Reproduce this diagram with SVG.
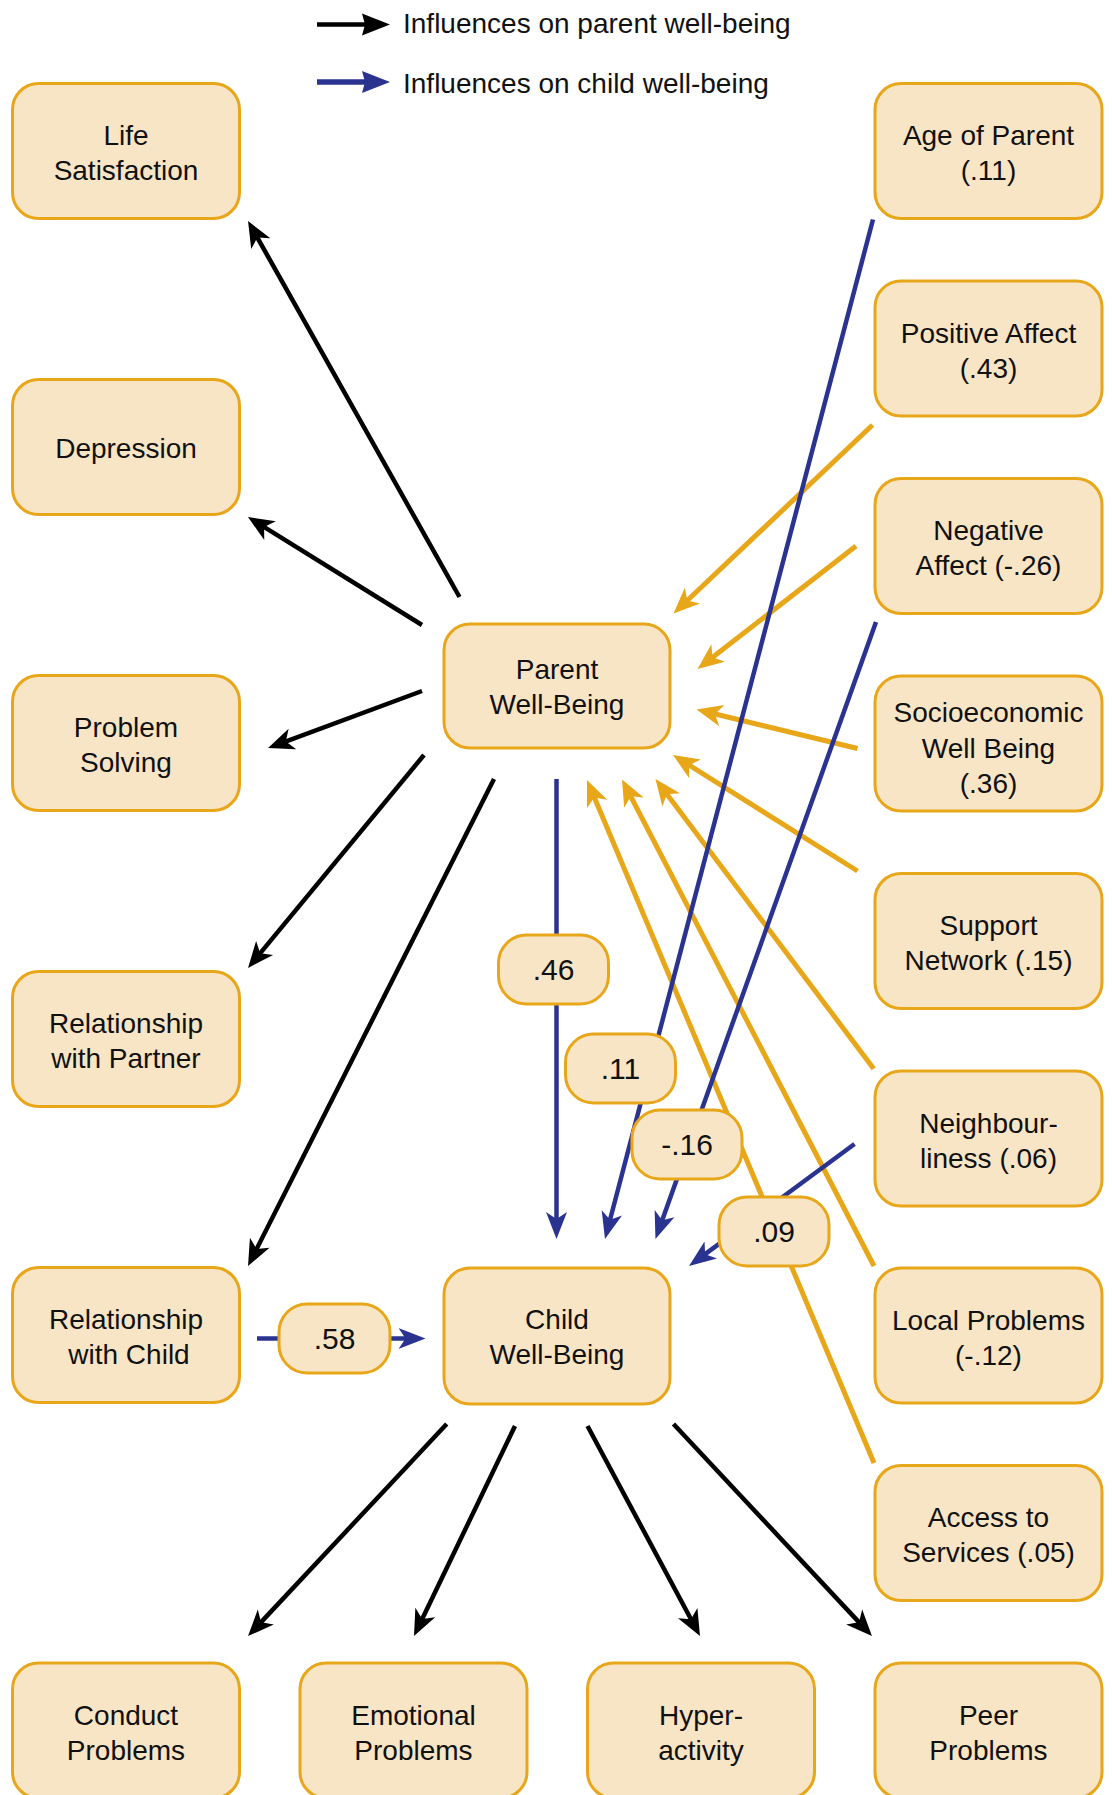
<svg xmlns="http://www.w3.org/2000/svg" width="1112" height="1795" viewBox="0 0 1112 1795">
<style>
.node rect{fill:#F8E5C6;stroke:#E8A619;stroke-width:3}
.node text,.lbl text,.leg text{font-family:"Liberation Sans",Arial,sans-serif;font-size:28px;text-anchor:middle;fill:#111}
.lbl rect{fill:#F8E5C6;stroke:#E8A619;stroke-width:3}
.lbl text{font-size:30px}
.leg text{text-anchor:start}
.k{stroke:#000;stroke-width:4.5;fill:none;marker-end:url(#ak)}
.b{stroke:#2B3391;stroke-width:4.5;fill:none;marker-end:url(#ab)}
.o{stroke:#E8A619;stroke-width:5;fill:none;marker-end:url(#ao)}
</style>
<defs>
<marker id="ak" markerUnits="userSpaceOnUse" orient="auto" viewBox="-12 -12 28 24" markerWidth="28" markerHeight="24" refX="0" refY="0"><path d="M15,0 L-11,-11 L-4,0 L-11,11 Z" fill="#000"/></marker>
<marker id="ab" markerUnits="userSpaceOnUse" orient="auto" viewBox="-12 -12 28 24" markerWidth="28" markerHeight="24" refX="0" refY="0"><path d="M15,0 L-12,-10.5 L-5,0 L-12,10.5 Z" fill="#2B3391"/></marker>
<marker id="ao" markerUnits="userSpaceOnUse" orient="auto" viewBox="-12 -12 28 24" markerWidth="28" markerHeight="24" refX="0" refY="0"><path d="M15,0 L-11,-11 L-4,0 L-11,11 Z" fill="#E8A619"/></marker>
</defs>
<rect width="1112" height="1795" fill="#fff"/>

<g id="legend" class="leg">
<line x1="317" y1="24.5" x2="366" y2="24.5" stroke="#000" stroke-width="4.5"/>
<polygon points="362,13.5 390,24.5 362,35.5 365,24.5" fill="#000"/>
<text x="403" y="32.5">Influences on parent well-being</text>
<line x1="317" y1="82" x2="366" y2="82" stroke="#2B3391" stroke-width="5.5"/>
<polygon points="362,71 390,82 362,93 365,82" fill="#2B3391"/>
<text x="403" y="93">Influences on child well-being</text>
</g>

<g id="connectors">
<line class="o" x1="872.5" y1="425" x2="684.4" y2="603.2"/>
<line class="o" x1="856" y1="546" x2="709.4" y2="659.8"/>
<line class="o" x1="857.5" y1="748.5" x2="711.1" y2="713"/>
<line class="o" x1="857.5" y1="871" x2="685.7" y2="763"/>
<line class="o" x1="873.7" y1="1068.7" x2="664.5" y2="791"/>
<line class="o" x1="874" y1="1266" x2="628.9" y2="792.8"/>
<line class="o" x1="874" y1="1463" x2="592.8" y2="793.8"/>
<line class="b" x1="556.5" y1="779" x2="556.5" y2="1224"/>
<line class="b" x1="873" y1="219.5" x2="608.8" y2="1224.5"/>
<line class="b" x1="876" y1="622" x2="660.5" y2="1224.9"/>
<line class="b" x1="854.5" y1="1144" x2="701.1" y2="1257.1"/>
<line class="b" x1="257" y1="1338.5" x2="410.5" y2="1338.5"/>
<line class="k" x1="459.5" y1="597" x2="255.4" y2="234.1"/>
<line class="k" x1="422" y1="625" x2="260.7" y2="524.9"/>
<line class="k" x1="422" y1="691" x2="282.1" y2="742.8"/>
<line class="k" x1="424" y1="755" x2="257.6" y2="956.4"/>
<line class="k" x1="494" y1="779" x2="254.8" y2="1252.6"/>
<line class="k" x1="446.7" y1="1424" x2="258.3" y2="1625.1"/>
<line class="k" x1="515" y1="1426" x2="420.5" y2="1622.5"/>
<line class="k" x1="587.5" y1="1426" x2="692.9" y2="1622.8"/>
<line class="k" x1="673.5" y1="1424" x2="861.7" y2="1625.1"/>
</g>

<g id="edge-labels" class="lbl">
<g id="lbl-46"><rect x="498.5" y="935" width="110" height="69" rx="28"/><text x="553.5" y="980">.46</text></g>
<g id="lbl-11"><rect x="565.5" y="1034" width="110" height="69" rx="28"/><text x="620.5" y="1079">.11</text></g>
<g id="lbl-16"><rect x="632" y="1110" width="110" height="69" rx="28"/><text x="687" y="1155">-.16</text></g>
<g id="lbl-09"><rect x="719" y="1197" width="110" height="69" rx="28"/><text x="774" y="1242">.09</text></g>
<g id="lbl-58"><rect x="279" y="1304" width="111" height="69" rx="28"/><text x="334.5" y="1349">.58</text></g>
</g>

<g id="life-satisfaction" class="node"><rect x="12.5" y="83.5" width="227" height="135" rx="26"/><text x="126" y="145">Life</text><text x="126" y="180">Satisfaction</text></g>
<g id="depression" class="node"><rect x="12.5" y="379.5" width="227" height="135" rx="26"/><text x="126" y="458">Depression</text></g>
<g id="problem-solving" class="node"><rect x="12.5" y="675.5" width="227" height="135" rx="26"/><text x="126" y="737">Problem</text><text x="126" y="772">Solving</text></g>
<g id="relationship-partner" class="node"><rect x="12.5" y="971.5" width="227" height="135" rx="26"/><text x="126" y="1033">Relationship</text><text x="126" y="1068">with Partner</text></g>
<g id="relationship-child" class="node"><rect x="12.5" y="1267.5" width="227" height="135" rx="26"/><text x="126" y="1329">Relationship</text><text x="129" y="1364">with Child</text></g>

<g id="parent-wellbeing" class="node"><rect x="444" y="624" width="226" height="124" rx="26"/><text x="557" y="679">Parent</text><text x="557" y="714">Well-Being</text></g>
<g id="child-wellbeing" class="node"><rect x="444" y="1268" width="226" height="136" rx="26"/><text x="557" y="1329">Child</text><text x="557" y="1364">Well-Being</text></g>

<g id="age-of-parent" class="node"><rect x="875" y="83.5" width="227" height="135" rx="26"/><text x="988.5" y="145">Age of Parent</text><text x="988.5" y="180">(.11)</text></g>
<g id="positive-affect" class="node"><rect x="875" y="281" width="227" height="135" rx="26"/><text x="988.5" y="342.5">Positive Affect</text><text x="988.5" y="377.5">(.43)</text></g>
<g id="negative-affect" class="node"><rect x="875" y="478.5" width="227" height="135" rx="26"/><text x="988.5" y="540">Negative</text><text x="988.5" y="575">Affect (-.26)</text></g>
<g id="socioeconomic" class="node"><rect x="875" y="676" width="227" height="135" rx="26"/><text x="988.5" y="722">Socioeconomic</text><text x="988.5" y="757.5">Well Being</text><text x="988.5" y="793">(.36)</text></g>
<g id="support-network" class="node"><rect x="875" y="873.5" width="227" height="135" rx="26"/><text x="988.5" y="935">Support</text><text x="988.5" y="970">Network (.15)</text></g>
<g id="neighbourliness" class="node"><rect x="875" y="1071" width="227" height="135" rx="26"/><text x="988.5" y="1132.5">Neighbour-</text><text x="988.5" y="1167.5">liness (.06)</text></g>
<g id="local-problems" class="node"><rect x="875" y="1268" width="227" height="135" rx="26"/><text x="988.5" y="1329.5">Local Problems</text><text x="988.5" y="1364.5">(-.12)</text></g>
<g id="access-services" class="node"><rect x="875" y="1465.5" width="227" height="135" rx="26"/><text x="988.5" y="1527">Access to</text><text x="988.5" y="1562">Services (.05)</text></g>

<g id="conduct-problems" class="node"><rect x="12.5" y="1663" width="227" height="135" rx="26"/><text x="126" y="1724.5">Conduct</text><text x="126" y="1759.5">Problems</text></g>
<g id="emotional-problems" class="node"><rect x="300" y="1663" width="227" height="135" rx="26"/><text x="413.5" y="1724.5">Emotional</text><text x="413.5" y="1759.5">Problems</text></g>
<g id="hyperactivity" class="node"><rect x="587.5" y="1663" width="227" height="135" rx="26"/><text x="701" y="1724.5">Hyper-</text><text x="701" y="1759.5">activity</text></g>
<g id="peer-problems" class="node"><rect x="875" y="1663" width="227" height="135" rx="26"/><text x="988.5" y="1724.5">Peer</text><text x="988.5" y="1759.5">Problems</text></g>
</svg>
